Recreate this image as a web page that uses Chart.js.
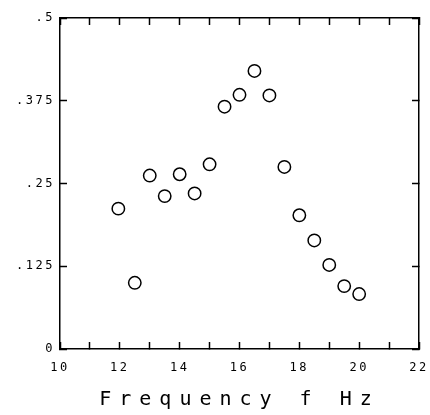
<!DOCTYPE html>
<html><head><meta charset="utf-8">
<script src="https://cdn.jsdelivr.net/npm/chart.js@4"></script>
<style>html,body{margin:0;padding:0;background:#fff}#wrap{width:430px;height:415px}</style>
</head><body><div id="wrap"><canvas id="c"></canvas></div>
<script>
const frequencies = [11.95, 12.5, 13, 13.5, 14, 14.5, 15, 15.5, 16, 16.5, 17, 17.5, 18, 18.5, 19, 19.5, 20];
const values = [0.212, 0.100, 0.262, 0.231, 0.264, 0.235, 0.279, 0.366, 0.384, 0.420, 0.383, 0.275, 0.202, 0.164, 0.127, 0.095, 0.083];
const yTickLabels = {0: '0', 0.125: '.125', 0.25: '.25', 0.375: '.375', 0.5: '.5'};
const xLabelEvery = 2;
const xTitle = 'Frequency f Hz';

const monoFont = "'DejaVu Sans Mono', monospace";
const axisGrid = {drawOnChartArea: false, drawTicks: true, tickLength: -7, tickWidth: 1.5, tickColor: '#000'};
const axisBorder = {display: true, color: '#000', width: 1.5};

const textSpacing = {
  id: 'textSpacing',
  beforeDraw(chart) {
    chart.ctx.letterSpacing = '2.5px';
    const s = chart.scales.x;
    if (!s._patched) {
      const orig = s.drawTitle;
      s.drawTitle = function () {
        const ctx = this.ctx;
        ctx.save();
        ctx.letterSpacing = '8px';
        orig.call(this);
        ctx.restore();
      };
      s._patched = true;
    }
  }
};

function noOverhang(s) {
  s.paddingLeft = 0; s.paddingRight = 0; s.paddingTop = 0; s.paddingBottom = 0;
}

new Chart(document.getElementById('c'), {
  type: 'scatter',
  data: {
    datasets: [{
      data: frequencies.map((f, i) => ({x: f, y: values[i]})),
      pointStyle: 'circle',
      pointRadius: 6.2,
      pointHoverRadius: 6.2,
      backgroundColor: 'rgba(255,255,255,0)',
      borderColor: '#000',
      borderWidth: 1.5
    }]
  },
  options: {
    responsive: true,
    maintainAspectRatio: false,
    animation: false,
    events: [],
    layout: {padding: {left: 0, right: 11, top: 18, bottom: 0}},
    plugins: {legend: {display: false}, tooltip: {enabled: false}},
    scales: {
      x: {
        type: 'linear', position: 'bottom', min: 10, max: 22,
        grid: axisGrid, border: axisBorder,
        ticks: {
          stepSize: 1, color: '#000', padding: 19, maxRotation: 0, autoSkip: false,
          font: {family: monoFont, size: 12},
          callback: v => (v % xLabelEvery === 0 ? String(v) : '')
        },
        title: {display: true, text: xTitle, color: '#000', font: {family: monoFont, size: 20}, padding: {top: 0, bottom: 3}},
        afterFit(s) { s.height = 66; noOverhang(s); }
      },
      x2: {
        type: 'linear', position: 'top', min: 10, max: 22,
        grid: axisGrid, border: axisBorder,
        ticks: {stepSize: 1, display: false},
        afterFit(s) { s.height = 0; noOverhang(s); }
      },
      y: {
        type: 'linear', position: 'left', min: 0, max: 0.5,
        grid: axisGrid, border: axisBorder,
        ticks: {
          stepSize: 0.125, color: '#000', padding: 12,
          font: {family: monoFont, size: 12},
          callback: v => (yTickLabels[v] !== undefined ? yTickLabels[v] : '')
        },
        afterFit(s) { s.width = 60; noOverhang(s); }
      },
      y2: {
        type: 'linear', position: 'right', min: 0, max: 0.5,
        grid: axisGrid, border: axisBorder,
        ticks: {stepSize: 0.125, display: false},
        afterFit(s) { s.width = 0; noOverhang(s); }
      }
    }
  },
  plugins: [textSpacing]
});
</script></body></html>
